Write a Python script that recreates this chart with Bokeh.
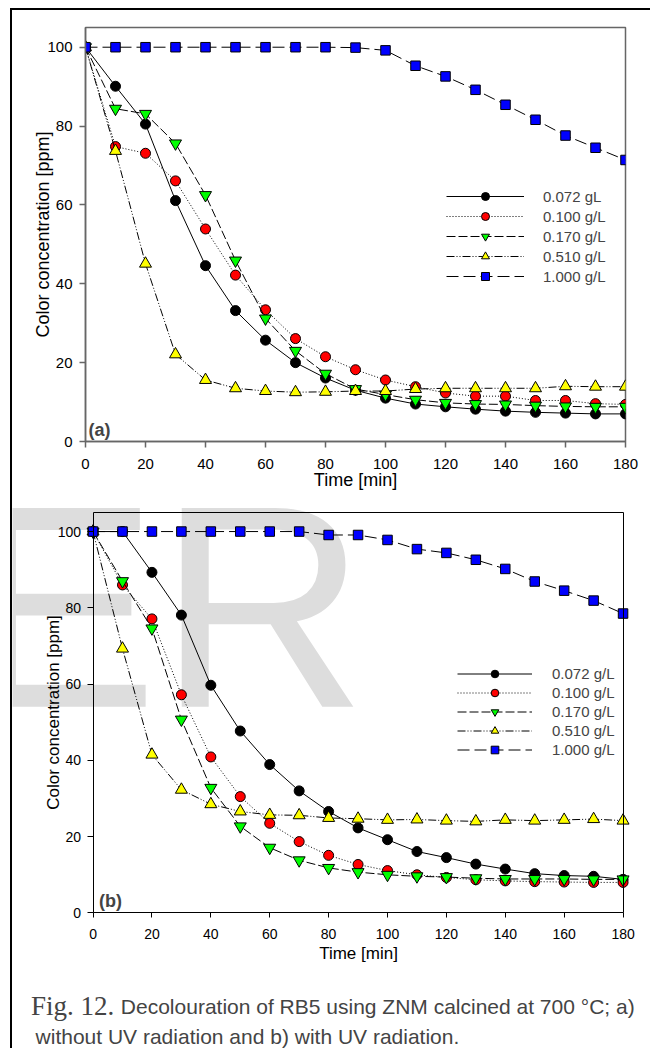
from bokeh.plotting import figure
from bokeh.models import Range1d, FixedTicker, Legend, LegendItem, Label, LinearAxis
from bokeh.embed import file_html
from bokeh.resources import INLINE

# ---------------- data ----------------
time_min = [0, 10, 20, 30, 40, 50, 60, 70, 80, 90, 100, 110, 120, 130, 140, 150, 160, 170, 180]

# (a) without UV radiation
a_0072 = [100, 90.1, 80.5, 61.1, 44.6, 33.2, 25.7, 20.0, 16.1, 13.0, 11.0, 9.5, 8.8, 8.2, 7.7, 7.4, 7.2, 7.0, 7.0]
a_0100 = [100, 74.8, 73.1, 66.1, 53.9, 42.2, 33.4, 26.1, 21.5, 18.2, 15.6, 13.9, 12.3, 11.5, 11.5, 10.4, 10.4, 9.6, 9.4]
a_0170 = [100, 84.4, 83.1, 75.6, 62.5, 45.9, 31.2, 23.0, 17.2, 13.3, 11.9, 10.6, 9.8, 9.5, 9.4, 9.1, 8.9, 8.8, 8.8]
a_0510 = [100, 73.7, 45.1, 22.1, 15.6, 13.5, 12.8, 12.5, 12.6, 12.8, 12.8, 13.3, 13.5, 13.5, 13.5, 13.5, 14.0, 13.9, 13.9]
a_1000 = [100, 100, 100, 100, 100, 100, 100, 100, 100, 99.9, 99.2, 95.3, 92.6, 89.2, 85.4, 81.6, 77.6, 74.5, 71.4]

# (b) with UV radiation
b_0072 = [100, 100.0, 89.3, 78.1, 59.7, 47.7, 38.9, 32.0, 26.6, 22.3, 19.2, 16.1, 14.5, 12.8, 11.5, 10.3, 9.8, 9.6, 8.8]
b_0100 = [100, 86.0, 77.1, 57.2, 40.9, 30.5, 23.5, 18.7, 15.1, 12.7, 11.1, 10.0, 9.3, 8.7, 8.4, 8.2, 8.1, 8.0, 8.0]
b_0170 = [100, 87.0, 74.6, 50.7, 32.8, 22.7, 17.1, 13.8, 11.8, 10.7, 10.0, 9.6, 9.4, 9.1, 8.9, 8.9, 8.9, 8.8, 8.8]
b_0510 = [100, 69.3, 41.5, 32.3, 28.5, 26.6, 25.7, 25.6, 24.9, 24.7, 24.4, 24.5, 24.2, 24.0, 24.4, 24.2, 24.4, 24.6, 24.2]
b_1000 = [100, 100, 100, 100, 100, 100, 100, 100, 99.1, 99.1, 97.8, 95.4, 94.4, 92.6, 90.2, 86.9, 84.5, 81.9, 78.5]

labels_a = ["0.072 gL", "0.100 g/L", "0.170 g/L", "0.510 g/L", "1.000 g/L"]
labels_b = ["0.072 g/L", "0.100 g/L", "0.170 g/L", "0.510 g/L", "1.000 g/L"]

x_ticks = [0, 20, 40, 60, 80, 100, 120, 140, 160, 180]
y_ticks = [0, 20, 40, 60, 80, 100]
X_MAX = 180
Y_MAX = 105

x_label = "Time [min]"
y_label = "Color concentration [ppm]"
caption_fig = "Fig. 12."
caption_1 = "Decolouration of RB5 using ZNM calcined at 700 \u00b0C; a)"
caption_2 = "without UV radiation and b) with UV radiation."
watermark = "ER"

# ---------------- styles ----------------
FONT = "Liberation Sans"
SERIF = "Liberation Serif"
STYLES = [
    dict(marker="circle", fill="#000000", dash="solid", size=10),
    dict(marker="circle", fill="#ff0000", dash="1 2", size=10),
    dict(marker="inverted_triangle", fill="#00ff00", dash="9 3", size=12),
    dict(marker="triangle", fill="#ffff00", dash="8 2 1 2 1 2", size=12),
    dict(marker="square", fill="#0000ff", dash="12 5", size=9.5),
]


def style_axis(ax, color, lw, tick_fs, label_fs, tick_out, lab_standoff, axlab_standoff):
    ax.axis_line_color = color
    ax.axis_line_width = lw
    ax.major_tick_line_color = color
    ax.major_tick_line_width = lw
    ax.major_tick_in = 0
    ax.major_tick_out = tick_out
    ax.minor_tick_line_color = None
    ax.major_label_text_font = FONT
    ax.major_label_text_font_size = f"{tick_fs}px"
    ax.major_label_text_color = "#000000"
    ax.axis_label_text_font = FONT
    ax.axis_label_text_font_size = f"{label_fs}px"
    ax.axis_label_text_font_style = "normal"
    ax.axis_label_text_color = "#000000"
    ax.major_label_standoff = lab_standoff
    ax.axis_label_standoff = axlab_standoff


def frame_axis(fixed, bounds):
    # plain line closing the box (no ticks, no labels)
    return LinearAxis(fixed_location=fixed, bounds=bounds, ticker=FixedTicker(ticks=[]),
                      major_label_text_font_size="0px", major_tick_out=0, major_tick_in=0,
                      minor_tick_out=0, minor_tick_in=0, axis_line_color="#000000")


def add_series(p, series, labels, leg_loc, glyph_w, glyph_h, standoff, legend_fs):
    items = []
    for ys, lab, st in zip(series, labels, STYLES):
        ln = p.line(time_min, ys, line_color="#000000", line_width=1, line_dash=st["dash"])
        sc = p.scatter(time_min, ys, marker=st["marker"], size=st["size"],
                       fill_color=st["fill"], line_color="#000000", line_width=1)
        items.append(LegendItem(label=lab, renderers=[ln, sc]))
    leg = Legend(items=items, location=leg_loc, glyph_width=glyph_w, glyph_height=glyph_h,
                 label_height=glyph_h, label_standoff=standoff, spacing=0,
                 padding=0, margin=0, border_line_color=None,
                 background_fill_alpha=0, label_text_font=FONT,
                 label_text_font_size=f"{legend_fs}px")
    p.add_layout(leg)


W = 640

# ---------------- panel (a) ----------------
pa = figure(width=W, height=484, output_backend="svg", toolbar_location=None,
            x_range=Range1d(0, X_MAX), y_range=Range1d(0, Y_MAX),
            min_border_left=73, min_border_right=27, min_border_top=17, min_border_bottom=53)
pa.background_fill_color = None
pa.border_fill_color = None
pa.outline_line_color = "#666666"
pa.outline_line_width = 1.5
pa.grid.visible = False
style_axis(pa.xaxis[0], "#666666", 1.5, 15, 18, 6, 11, -2)
style_axis(pa.yaxis[0], "#666666", 1.5, 15, 18, 6, 7, -9)
pa.xaxis.ticker = FixedTicker(ticks=x_ticks)
pa.yaxis.ticker = FixedTicker(ticks=y_ticks)
pa.xaxis.axis_label = x_label
pa.yaxis.axis_label = y_label
add_series(pa, [a_0072, a_0100, a_0170, a_0510, a_1000], labels_a, (361, 155), 78, 20, 19, 15)
pa.add_layout(Label(x=1.0, y=2.8, text="(a)", text_font=FONT, text_font_size="18px",
                    text_font_style="bold", text_align="left", text_baseline="alphabetic"))
pa.styles = {"margin-left": "10px", "margin-top": "8px",
             "border-left": "2px solid #000000", "border-top": "2px solid #000000"}

# ---------------- panel (b) ----------------
# the frame fills the whole canvas so the faint watermark can sit under the curves;
# the axes and the box lines are pinned at t = 0 / 180 and c = 0 / 105
pb = figure(width=W, height=470, output_backend="svg", toolbar_location=None,
            x_range=Range1d(-27.36, 190.0), y_range=Range1d(-13.0, 110.24),
            min_border_left=0, min_border_right=0, min_border_top=0, min_border_bottom=0)
pb.background_fill_color = None
pb.border_fill_color = None
pb.outline_line_color = None
pb.grid.visible = False
style_axis(pb.xaxis[0], "#000000", 1, 14, 17, 5, 11, 2)
style_axis(pb.yaxis[0], "#000000", 1, 14, 17, 6, 6, -8)
pb.xaxis.ticker = FixedTicker(ticks=x_ticks)
pb.yaxis.ticker = FixedTicker(ticks=y_ticks)
pb.xaxis.bounds = (0, X_MAX)
pb.yaxis.bounds = (0, Y_MAX)
pb.xaxis.fixed_location = 0
pb.yaxis.fixed_location = 0
pb.xaxis.axis_label = x_label
pb.yaxis.axis_label = y_label
pb.add_layout(frame_axis(Y_MAX, (0, X_MAX)), "above")
pb.add_layout(frame_axis(X_MAX, (0, Y_MAX)), "right")

pb.add_layout(Label(x=-43.4, y=80.4, text=watermark, text_font=FONT,
                    text_font_size="289px", text_color="#dddddd",
                    text_align="left", text_baseline="alphabetic", level="underlay"))
add_series(pb, [b_0072, b_0100, b_0170, b_0510, b_1000], labels_b, (445, 203), 75, 19, 20, 15)
pb.add_layout(Label(x=2.0, y=3.2, text="(b)", text_font=FONT, text_font_size="18px",
                    text_font_style="bold", text_align="left", text_baseline="alphabetic"))
pb.styles = {"margin-left": "10px", "border-left": "2px solid #000000"}

# ---------------- caption ----------------
CH = 86
pc = figure(width=W, height=CH, output_backend="svg", toolbar_location=None,
            x_range=Range1d(0, W - 2), y_range=Range1d(0, CH),
            min_border=0, x_axis_type=None, y_axis_type=None)
pc.grid.visible = False
pc.outline_line_color = None
pc.background_fill_color = None
pc.border_fill_color = None
pc.add_layout(Label(x=18.5, y=42.3, text=caption_fig, text_font=SERIF,
                    text_font_size="27px", text_align="left", text_baseline="alphabetic"))
pc.add_layout(Label(x=108, y=42.3, text=caption_1, text_font=FONT,
                    text_font_size="21px", text_align="left", text_baseline="alphabetic"))
pc.add_layout(Label(x=23, y=12, text=caption_2, text_font=FONT,
                    text_font_size="21px", text_align="left", text_baseline="alphabetic"))
pc.styles = {"margin-left": "10px", "border-left": "2px solid #000000"}

open("out.html", "w").write(file_html([pa, pb, pc], INLINE))
